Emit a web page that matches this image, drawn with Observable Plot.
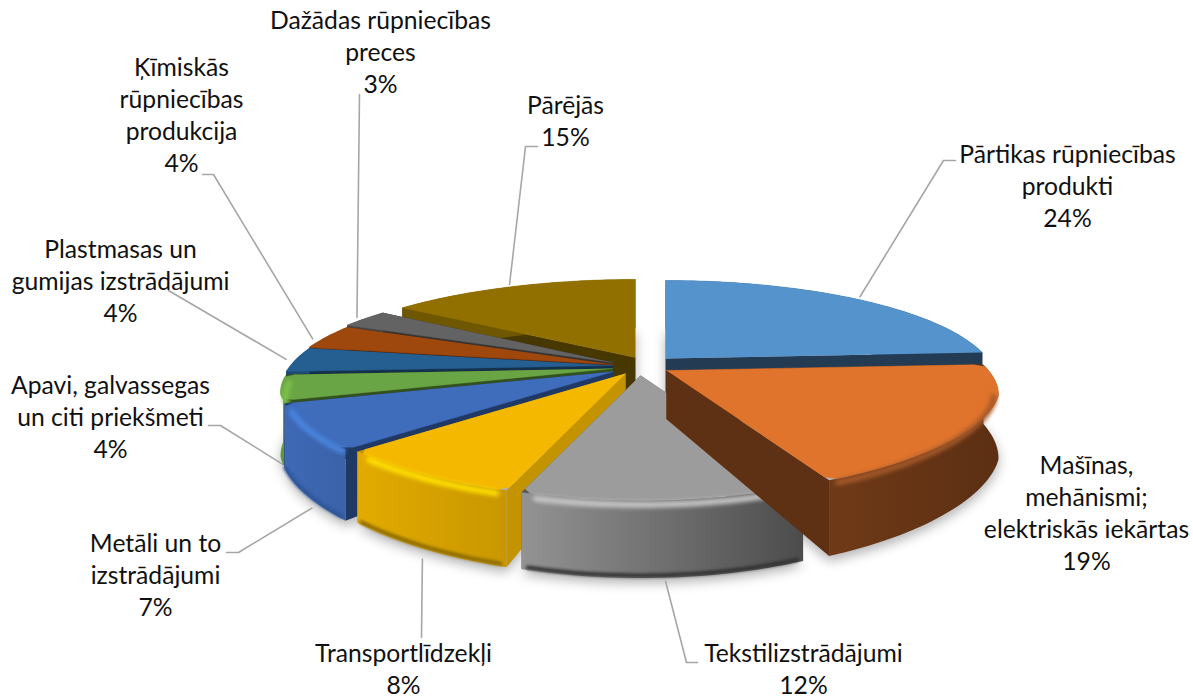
<!DOCTYPE html>
<html lang="lv">
<head>
<meta charset="utf-8">
<script src="https://cdn.jsdelivr.net/npm/d3@7"></script>
<script src="https://cdn.jsdelivr.net/npm/@observablehq/plot@0.6"></script>
<style>
html,body{margin:0;padding:0;background:#fff}
svg{display:block}
</style>
</head>
<body>
<div id="chart"></div>
<script>
// ---- data
const categories = [
  "Pārtikas rūpniecības\nprodukti",
  "Mašīnas,\nmehānismi;\nelektriskās iekārtas",
  "Tekstilizstrādājumi",
  "Transportlīdzekļi",
  "Metāli un to\nizstrādājumi",
  "Apavi, galvassegas\nun citi priekšmeti",
  "Plastmasas un\ngumijas izstrādājumi",
  "Ķīmiskās\nrūpniecības\nprodukcija",
  "Dažādas rūpniecības\npreces",
  "Pārējās"
];
const shares = [24, 19, 12, 8, 7, 4, 4, 4, 3, 15];

// ---- slice styling
const topColors  = ["#5593cc","#e0742c","#9c9c9c","#f4b800","#3f6cbb","#6aa545","#255e90","#9e480e","#636363","#917000"];
const rimFrom    = ["#233c54","#6f3a17","#939393","#e3ab00","#3e69b6","#5f9a3c","#1c4a72","#7a370a","#444444","#6f5600"];
const rimTo      = ["#233c54","#5c2f13","#4c4c4c","#c89700","#3a62a8","#5f9a3c","#1c4a72","#7a370a","#444444","#6f5600"];
const wallStart  = ["#233c54","#5f3114","#555555","#c49300","#203864","#33501f","#14304b","#5a2808","#333333","#473700"];
const wallEnd    = ["#233c54","#5f3114","#555555","#c49300","#203864","#33501f","#14304b","#5a2808","#333333","#7b5f00"];
const glowColors = [null,"#a5592a","#c8c8c8","#ffe000","#4a86e0","#7cc24a",null,null,null,null];
const glowTrim   = [0,16,2,2,2,2,0,0,0,0];
const edgeColors = [null,null,"#333333","#8a6a00","#2f5597",null,null,null,null,null];
const roundedTop = [false,true,true,true,true,true,false,false,false,false];

// ---- pie geometry: exploded apex of each slice, perspective disc
const apex = [[665,358],[666,370],[640,375],[625,373],[613,371],[612,368],[612,365],[612,364],[612,362],[626,357]];
const skew = [0,0,0,0,0,0,0,0,0,9];
const paintOrder = [0,9,8,7,6,5,4,3,2,1];
const RX_BACK = 322, RX_FRONT = 330, RY = 96, PERSP = 0.23, PERSP_FRONT_X = 0.15, DEPTH = 60;

// ---- label placement
const labelAt = [[1067,187],[1086,514],[803,670],[403,670],[155,576],[110,418],[120,282],[181,116],[380,53],[565,122]];
const elbows = [
  [[943,160],[955,160]], null, [[686,662],[697,662]], [[421,637]],
  [[238,552],[226,552]], [[220,425],[208,425]], [[168,290]],
  [[213,174],[202,174]], [[359,94]], [[525,146],[537,146]]
];
const attachShift  = [0,0,0,-1,-5.4,-7,0,-2,0,0];
const attachRadius = [1.03,1.03,1.03,1.03,1.03,1,1.03,1.03,1.03,1.03];
const attachDrop   = [0,0,0,6,0,0,0,0,0,0];
const attachBottom = [false,false,true,true,true,true,false,false,false,false];

const total = d3.sum(shares);
let run = 0;
const slices = shares.map((v, i) => {
  const a0 = run / total * 360; run += v;
  return {i, a0, a1: run / total * 360, name: categories[i], pct: v};
});
const rad = Math.PI / 180;
function proj(i, a, z = 0, r = 1) {
  const u = Math.sin(a * rad), v = -Math.cos(a * rad), s = 1 / (1 - PERSP * v);
  const sx = v > 0 ? 1 / (1 - PERSP_FRONT_X * v) : s;
  const rx = RX_BACK + (RX_FRONT - RX_BACK) * Math.min(1, Math.max(0, v * 4));
  return {x: apex[i][0] + rx * u * sx * r - skew[i] * v, y: apex[i][1] + RY * v * s * r + z * s};
}
const arc = (i, a0, a1, z = 0, r = 1) => {
  const n = Math.max(2, Math.ceil(Math.abs(a1 - a0) / 1.5));
  return d3.range(n + 1).map(k => proj(i, a0 + (a1 - a0) * k / n, z, r));
};
const poly = (pts, o) => Plot.line(pts, {x: "x", y: "y", curve: "linear", stroke: "none", ...o});
const band = (pts, o) => Plot.line(pts, {x: "x", y: "y", curve: "linear", fill: "none", ...o});

const marks = [];
// soft shadow below the pie
for (const j of paintOrder) {
  const s = slices[j];
  const base = [proj(j, 0, DEPTH, 0), ...arc(j, s.a0, s.a1, DEPTH)].map(p => ({x: p.x, y: p.y + 5}));
  marks.push(poly(base, {fill: "#000", fillOpacity: 0.3, imageFilter: "blur(6px)"}));
}
// leader lines, from the rim point of each slice to the label elbow
slices.forEach((s, i) => {
  if (!elbows[i]) return;
  const mid = (s.a0 + s.a1) / 2 + attachShift[i];
  const p = proj(i, mid, attachBottom[i] ? DEPTH : 0, attachRadius[i]);
  const start = {x: p.x, y: p.y + attachDrop[i]};
  marks.push(band([start, ...elbows[i].map(([x, y]) => ({x, y}))], {stroke: "#a6a6a6", strokeWidth: 1.6}));
});
// painter's order, back to front
for (const j of paintOrder) {
  const s = slices[j];
  const c = proj(j, 0, 0, 0), cd = proj(j, 0, DEPTH, 0);
  const p0 = proj(j, s.a0), p0d = proj(j, s.a0, DEPTH), p1 = proj(j, s.a1), p1d = proj(j, s.a1, DEPTH);
  marks.push(poly([c, p0, p0d, cd], {fill: wallStart[j]}));
  marks.push(poly([c, p1, p1d, cd], {fill: wallEnd[j]}));
  marks.push(poly([...arc(j, s.a0, s.a1), ...arc(j, s.a1, s.a0, DEPTH)], {fill: `url(#rim${j})`}));
  const outline = roundedTop[j]
    ? [proj(j, s.a0, 0, 0.97), ...arc(j, s.a0 + 1.4, s.a1 - 1.4), proj(j, s.a1, 0, 0.97)]
    : arc(j, s.a0, s.a1);
  marks.push(poly([c, ...outline], {fill: topColors[j], stroke: topColors[j], strokeWidth: 0.5}));
  if (edgeColors[j]) marks.push(band(arc(j, s.a0 + 1, s.a1 - 1, DEPTH - 2), {stroke: edgeColors[j], strokeWidth: 4, imageFilter: "blur(1.5px)"}));
  if (glowColors[j]) marks.push(band(arc(j, s.a0 + glowTrim[j], s.a1 - 2, 5, 0.985), {stroke: glowColors[j], strokeWidth: 6, imageFilter: "blur(2px)"}));
}
// labels
const labels = slices.map((s, i) => ({x: labelAt[i][0], y: labelAt[i][1] - 3, text: `${s.name}\n${s.pct}%`}));
marks.push(Plot.text(labels, {x: "x", y: "y", text: "text", textAnchor: "middle", lineAnchor: "middle", lineHeight: 32 / 24.7, fontSize: 24.7, fill: "#111"}));

const plot = Plot.plot({
  width: 1193, height: 698, margin: 0,
  x: {type: "linear", domain: [0, 1193], range: [0, 1193], axis: null},
  y: {type: "linear", domain: [0, 698], range: [0, 698], axis: null},
  style: {fontFamily: "Lato", background: "#fff"},
  marks
});
const defs = d3.select(plot).insert("defs", ":first-child");
slices.forEach((s, j) => {
  const g = defs.append("linearGradient").attr("id", `rim${j}`).attr("x1", 0).attr("x2", 1).attr("y1", 0).attr("y2", 0);
  g.append("stop").attr("offset", 0).attr("stop-color", rimFrom[j]);
  g.append("stop").attr("offset", 1).attr("stop-color", rimTo[j]);
});
document.getElementById("chart").append(plot);
</script>
</body>
</html>
